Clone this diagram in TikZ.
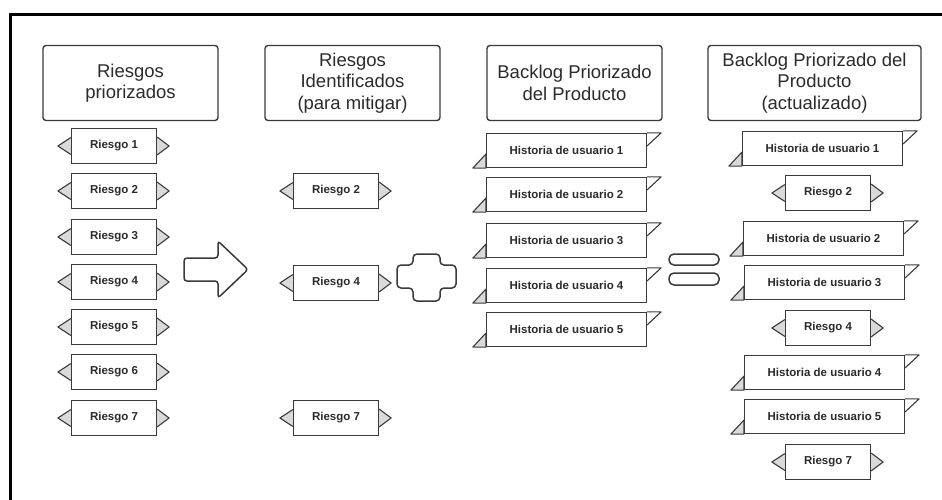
\documentclass[tikz,border=0pt]{standalone}
\usepackage{fontspec}
\setmainfont{Liberation Sans}
\usetikzlibrary{calc}
\definecolor{ln}{HTML}{3A3A3A}
\definecolor{tx}{HTML}{2B2B2B}
\definecolor{sh}{HTML}{DADADA}
\tikzset{
 header/.style={draw=ln, line width=1.4pt, rounded corners=3pt, minimum height=75pt, align=center, font=\fontsize{18.5}{21.5}\selectfont, text=tx, inner sep=0pt},
 riesgo/.style={draw=ln, line width=1.2pt, fill=white, minimum width=85pt, minimum height=35pt, font=\fontsize{11.5}{13}\selectfont\bfseries, text=tx, inner sep=0pt},
 historia/.style={riesgo, minimum width=160pt, minimum height=34pt},
 tri/.style={draw=ln, line width=1.1pt, fill=sh, line join=round},
 flag/.style={draw=ln, line width=1.1pt, fill=white, line join=round},
 bigshape/.style={draw=ln, line width=1.5pt, rounded corners=3pt, fill=white},
 frame/.style={draw=black, line width=3pt}
}
\newcommand{\riesgotris}[1]{%
 \draw[tri] ([yshift=8.5pt]#1.west) -- ([xshift=-13pt]#1.west) -- ([yshift=-8.5pt]#1.west);
 \draw[tri] ([yshift=9pt]#1.east) -- ([xshift=12pt]#1.east) -- ([yshift=-9pt]#1.east);
}
\newcommand{\historiaflags}[1]{%
 \draw[tri] (#1.south west) -- ([yshift=14pt]#1.south west) -- ([xshift=-13pt]#1.south west) -- cycle;
 \draw[flag] (#1.north east) -- ([xshift=14pt]#1.north east) -- ([yshift=-13pt]#1.north east);
}
\begin{document}
\begin{tikzpicture}[x=1pt,y=-1pt]
\useasboundingbox (0,0) rectangle (942,500);
\draw[frame] (10,502) -- (10,14.5) -- (944,14.5);

% headers
\node[header, minimum width=175pt] (h1) at (130.5,83) {Riesgos\\priorizados};
\node[header, minimum width=175pt] (h2) at (352.5,83) {Riesgos\\Identificados\\(para mitigar)};
\node[header, minimum width=175pt] (h3) at (574.5,83) {Backlog Priorizado\\del Producto};
\node[header, minimum width=213pt] (h4) at (814.5,83) {Backlog Priorizado del\\Producto\\(actualizado)};

% column 1
\node[riesgo] (a1) at (114,146) {Riesgo 1};
\node[riesgo] (a2) at (114,191) {Riesgo 2};
\node[riesgo] (a3) at (114,237) {Riesgo 3};
\node[riesgo] (a4) at (114,282) {Riesgo 4};
\node[riesgo] (a5) at (114,327) {Riesgo 5};
\node[riesgo] (a6) at (114,372) {Riesgo 6};
\node[riesgo] (a7) at (114,418) {Riesgo 7};
\foreach \n in {a1,a2,a3,a4,a5,a6,a7} {\riesgotris{\n}}

% column 2
\node[riesgo] (b2) at (336,191) {Riesgo 2};
\node[riesgo] (b4) at (336,283) {Riesgo 4};
\node[riesgo] (b7) at (336,418) {Riesgo 7};
\foreach \n in {b2,b4,b7} {\riesgotris{\n}}

% column 3
\node[historia] (c1) at (566.5,150.5) {Historia de usuario 1};
\node[historia] (c2) at (566.5,194.5) {Historia de usuario 2};
\node[historia] (c3) at (566.5,240.5) {Historia de usuario 3};
\node[historia] (c4) at (566.5,285.5) {Historia de usuario 4};
\node[historia] (c5) at (566.5,329.5) {Historia de usuario 5};
\foreach \n in {c1,c2,c3,c4,c5} {\historiaflags{\n}}

% column 4
\node[historia] (d1) at (822.5,148.5) {Historia de usuario 1};
\node[riesgo] (d2) at (828,193) {Riesgo 2};
\node[historia] (d3) at (823.5,238.5) {Historia de usuario 2};
\node[historia] (d4) at (824.5,282.5) {Historia de usuario 3};
\node[riesgo] (d5) at (828,328) {Riesgo 4};
\node[historia] (d6) at (824.5,372.5) {Historia de usuario 4};
\node[historia] (d7) at (824.5,416.5) {Historia de usuario 5};
\node[riesgo] (d8) at (828,462) {Riesgo 7};
\foreach \n in {d1,d3,d4,d6,d7} {\historiaflags{\n}}
\foreach \n in {d2,d5,d8} {\riesgotris{\n}}

% big arrow
\draw[bigshape] (184,258) -- (218,258) -- (218,241) -- (248,269.5) -- (218,298) -- (218,281) -- (184,281) -- cycle;
% plus
\draw[bigshape, rounded corners=4pt] (413,254) -- (440,254) -- (440,265) -- (456,265) -- (456,288) -- (440,288) -- (440,301) -- (413,301) -- (413,288) -- (397,288) -- (397,265) -- (413,265) -- cycle;
% equals
\draw[bigshape, rounded corners=5pt] (669,254) rectangle (719,265);
\draw[bigshape, rounded corners=5pt] (669,273) rectangle (719,285);
\end{tikzpicture}
\end{document}
